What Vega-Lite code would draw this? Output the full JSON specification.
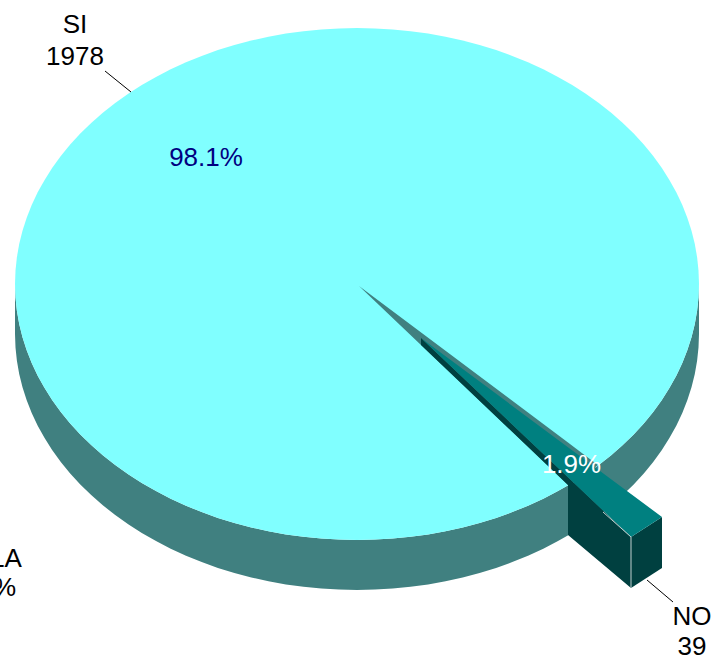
{"$schema":"https://vega.github.io/schema/vega-lite/v6.json","width":715,"height":657,"padding":0,"autosize":"none","background":"white","view":{"stroke":null},
"datasets":{
"rim":[
{"x":-342,"upper":0,"lower":0,"bottom":50},{"x":-341.5,"upper":-13.4,"lower":13.4,"bottom":63.4},{"x":-340.1,"upper":-26.8,"lower":26.8,"bottom":76.8},{"x":-337.8,"upper":-40,"lower":40,"bottom":90},{"x":-334.5,"upper":-53.2,"lower":53.2,"bottom":103.2},{"x":-330.3,"upper":-66.3,"lower":66.3,"bottom":116.3},{"x":-325.3,"upper":-79.1,"lower":79.1,"bottom":129.1},{"x":-319.3,"upper":-91.7,"lower":91.7,"bottom":141.7},{"x":-312.4,"upper":-104.1,"lower":104.1,"bottom":154.1},{"x":-304.7,"upper":-116.2,"lower":116.2,"bottom":166.2},{"x":-296.2,"upper":-128,"lower":128,"bottom":178},{"x":-286.8,"upper":-139.4,"lower":139.4,"bottom":189.4},{"x":-276.7,"upper":-150.5,"lower":150.5,"bottom":200.5},{"x":-265.8,"upper":-161.1,"lower":161.1,"bottom":211.1},{"x":-254.2,"upper":-171.3,"lower":171.3,"bottom":221.3},{"x":-241.8,"upper":-181,"lower":181,"bottom":231},{"x":-228.8,"upper":-190.2,"lower":190.2,"bottom":240.2},{"x":-215.2,"upper":-199,"lower":199,"bottom":249},{"x":-201,"upper":-207.1,"lower":207.1,"bottom":257.1},{"x":-186.3,"upper":-214.7,"lower":214.7,"bottom":264.7},{"x":-171,"upper":-221.7,"lower":221.7,"bottom":271.7},{"x":-155.3,"upper":-228.1,"lower":228.1,"bottom":278.1},{"x":-139.1,"upper":-233.9,"lower":233.9,"bottom":283.9},{"x":-122.6,"upper":-239,"lower":239,"bottom":289},{"x":-105.7,"upper":-243.5,"lower":243.5,"bottom":293.5},{"x":-88.5,"upper":-247.3,"lower":247.3,"bottom":297.3},{"x":-71.1,"upper":-250.4,"lower":250.4,"bottom":300.4},{"x":-53.5,"upper":-252.8,"lower":252.8,"bottom":302.8},{"x":-35.7,"upper":-254.6,"lower":254.6,"bottom":304.6},{"x":-17.9,"upper":-255.6,"lower":255.6,"bottom":305.6},{"x":0,"upper":-256,"lower":256,"bottom":306},
{"x":17.9,"upper":-255.6,"lower":255.6,"bottom":305.6},{"x":35.7,"upper":-254.6,"lower":254.6,"bottom":304.6},{"x":53.5,"upper":-252.8,"lower":252.8,"bottom":302.8},{"x":71.1,"upper":-250.4,"lower":250.4,"bottom":300.4},{"x":88.5,"upper":-247.3,"lower":247.3,"bottom":297.3},{"x":105.7,"upper":-243.5,"lower":243.5,"bottom":293.5},{"x":122.6,"upper":-239,"lower":239,"bottom":289},{"x":139.1,"upper":-233.9,"lower":233.9,"bottom":283.9},{"x":155.3,"upper":-228.1,"lower":228.1,"bottom":278.1},{"x":171,"upper":-221.7,"lower":221.7,"bottom":271.7},{"x":186.3,"upper":-214.7,"lower":214.7,"bottom":264.7},{"x":201,"upper":-207.1,"lower":207.1,"bottom":257.1},{"x":215.2,"upper":-199,"lower":199,"bottom":249},{"x":228.8,"upper":-190.2,"lower":190.2,"bottom":240.2},{"x":241.8,"upper":-181,"lower":181,"bottom":231},{"x":254.2,"upper":-171.3,"lower":171.3,"bottom":221.3},{"x":265.8,"upper":-161.1,"lower":161.1,"bottom":211.1},{"x":276.7,"upper":-150.5,"lower":150.5,"bottom":200.5},{"x":286.8,"upper":-139.4,"lower":139.4,"bottom":189.4},{"x":296.2,"upper":-128,"lower":128,"bottom":178},{"x":304.7,"upper":-116.2,"lower":116.2,"bottom":166.2},{"x":312.4,"upper":-104.1,"lower":104.1,"bottom":154.1},{"x":319.3,"upper":-91.7,"lower":91.7,"bottom":141.7},{"x":325.3,"upper":-79.1,"lower":79.1,"bottom":129.1},{"x":330.3,"upper":-66.3,"lower":66.3,"bottom":116.3},{"x":334.5,"upper":-53.2,"lower":53.2,"bottom":103.2},{"x":337.8,"upper":-40,"lower":40,"bottom":90},{"x":340.1,"upper":-26.8,"lower":26.8,"bottom":76.8},{"x":341.5,"upper":-13.4,"lower":13.4,"bottom":63.4},{"x":342,"upper":0,"lower":0,"bottom":50}
],
"labels":[
{"label":"SI","x":-282,"y":-251,"colour":"#000000"},
{"label":"1978","x":-282,"y":-219,"colour":"#000000"},
{"label":"NO","x":335,"y":341,"colour":"#000000"},
{"label":"39","x":335,"y":371,"colour":"#000000"},
{"label":"LA","x":-351,"y":283,"colour":"#000000"},
{"label":"%","x":-352.5,"y":312,"colour":"#000000"},
{"label":"98.1%","x":-151,"y":-118,"colour":"#000080"},
{"label":"1.9%","x":214.5,"y":189,"colour":"#ffffff"}
]},
"encoding":{
"x":{"field":"x","type":"quantitative","axis":null,"scale":{"domain":[-357,358],"range":[0,715],"nice":false,"zero":false}},
"y":{"field":"y","type":"quantitative","axis":null,"scale":{"domain":[-284,373],"range":[0,657],"nice":false,"zero":false}}
},
"layer":[
{"data":{"name":"rim"},"mark":{"type":"area","color":"#408080"},"encoding":{"y":{"field":"lower","type":"quantitative","axis":null,"scale":{"domain":[-284,373],"range":[0,657],"nice":false,"zero":false}},"y2":{"field":"bottom"}}},
{"data":{"name":"rim"},"mark":{"type":"area","color":"#80ffff"},"encoding":{"y":{"field":"upper","type":"quantitative","axis":null,"scale":{"domain":[-284,373],"range":[0,657],"nice":false,"zero":false}},"y2":{"field":"lower"}}},
{"data":{"values":[{"x":2,"top":2,"base":2},{"x":211,"top":158.5,"base":201},{"x":228.8,"top":171.9,"base":190.2},{"x":241,"top":181,"base":181}]},"mark":{"type":"area","color":"#408080"},"encoding":{"y":{"field":"top","type":"quantitative","axis":null,"scale":{"domain":[-284,373],"range":[0,657],"nice":false,"zero":false}},"y2":{"field":"base"}}},
{"data":{"values":[{"x":-252,"y":-213,"x2":-226,"y2":-192},{"x":290,"y":296,"x2":316,"y2":318}]},"mark":{"type":"rule","color":"#000000","strokeWidth":1},"encoding":{"x2":{"field":"x2"},"y2":{"field":"y2"}}},
{"data":{"values":[{"x":64,"top":54,"base":61},{"x":211,"top":193.3,"base":201},{"x":211.01,"top":193.3,"base":251},{"x":274,"top":253,"base":304}]},"mark":{"type":"area","color":"#004040"},"encoding":{"y":{"field":"top","type":"quantitative","axis":null,"scale":{"domain":[-284,373],"range":[0,657],"nice":false,"zero":false}},"y2":{"field":"base"}}},
{"data":{"values":[{"x":274,"top":253,"base":304},{"x":305,"top":233,"base":284}]},"mark":{"type":"area","color":"#004040"},"encoding":{"y":{"field":"top","type":"quantitative","axis":null,"scale":{"domain":[-284,373],"range":[0,657],"nice":false,"zero":false}},"y2":{"field":"base"}}},
{"data":{"values":[{"x":64,"top":54,"base":54},{"x":274,"top":210,"base":253},{"x":305,"top":233,"base":233}]},"mark":{"type":"area","color":"#008080"},"encoding":{"y":{"field":"top","type":"quantitative","axis":null,"scale":{"domain":[-284,373],"range":[0,657],"nice":false,"zero":false}},"y2":{"field":"base"}}},
{"data":{"values":[{"x":246,"y":228,"x2":274,"y2":253},{"x":274,"y":253,"x2":274,"y2":304}]},"mark":{"type":"rule","color":"#c0d0d0","strokeWidth":1},"encoding":{"x2":{"field":"x2"},"y2":{"field":"y2"}}},
{"data":{"name":"labels"},"mark":{"type":"text","font":"Liberation Sans","fontSize":26,"align":"center","baseline":"alphabetic"},"encoding":{"text":{"field":"label","type":"nominal"},"color":{"field":"colour","type":"nominal","scale":null}}}
]}
